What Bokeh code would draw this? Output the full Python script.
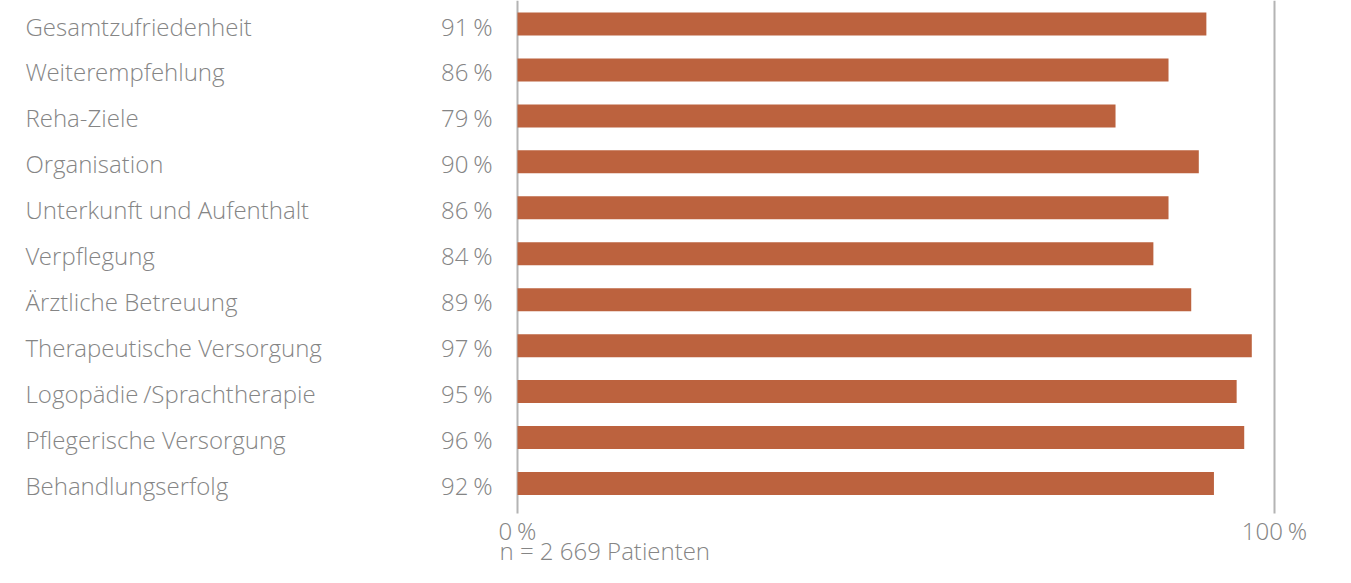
from bokeh.plotting import figure
from bokeh.models import Range1d, ColumnDataSource
from bokeh.core.properties import value
from bokeh.embed import file_html
from bokeh.resources import INLINE

categories = ["Gesamtzufriedenheit", "Weiterempfehlung", "Reha-Ziele", "Organisation",
              "Unterkunft und Aufenthalt", "Verpflegung", "Ärztliche Betreuung",
              "Therapeutische Versorgung", "Logopädie\u2009/Sprachtherapie",
              "Pflegerische Versorgung", "Behandlungserfolg"]
values = [91, 86, 79, 90, 86, 84, 89, 97, 95, 96, 92]
tick_values = [0, 100]
tick_labels = ["0\u2009%", "100\u2009%"]
footer = "n = 2 669 Patienten"

W, H = 1335, 567
PX_X = 7.57      # pixels per percent
X0 = 517         # canvas px of 0 %
PX_Y = 45.95     # pixels per row
Y_TOP = -23.5 / 45.95   # row coordinate at canvas top

def xd(px):
    return (px - X0) / PX_X

def yd(px):
    return Y_TOP + px / PX_Y

p = figure(width=W, height=H, output_backend="svg", toolbar_location=None,
           x_range=Range1d(xd(0), xd(W)), y_range=Range1d(yd(H), yd(0)),
           min_border=0, outline_line_color=None)
p.axis.visible = False
p.grid.visible = False
p.background_fill_color = "white"
p.border_fill_color = "white"

idx = list(range(len(categories)))
src = ColumnDataSource(dict(y=idx, v=values, cat=categories,
                            lab=[f"{v}\u2009%" for v in values]))

GRAY = "#858585"
FONT = value("Open Sans Light")
FS = "24px"
DY = 2 / PX_Y   # text sits slightly below bar centre

# vertical reference lines at 0 and 100
p.segment(x0=tick_values, x1=tick_values, y0=[yd(0)] * 2, y1=[yd(513)] * 2,
          line_color="#b4b4b4", line_width=2)

p.hbar(y="y", left=0, right="v", height=0.5, source=src,
       fill_color="#BC623E", line_color=None)

ty = [i + DY for i in idx]
src.data["ty"] = ty
p.text(x=xd(25), y="ty", text="cat", source=src, text_font=FONT,
       text_font_size=FS, text_color=GRAY, text_baseline="middle", text_align="left")
p.text(x=xd(492), y="ty", text="lab", source=src, text_font=FONT,
       text_font_size=FS, text_color=GRAY, text_baseline="middle", text_align="right")

p.text(x=tick_values, y=[yd(530)] * 2, text=tick_labels, text_font=FONT,
       text_font_size=FS, text_color=GRAY, text_baseline="middle", text_align="center")
p.text(x=[xd(499)], y=[yd(550)], text=[footer], text_font=FONT,
       text_font_size=FS, text_color=GRAY, text_baseline="middle", text_align="left")

open("out.html", "w").write(file_html(p, INLINE))
